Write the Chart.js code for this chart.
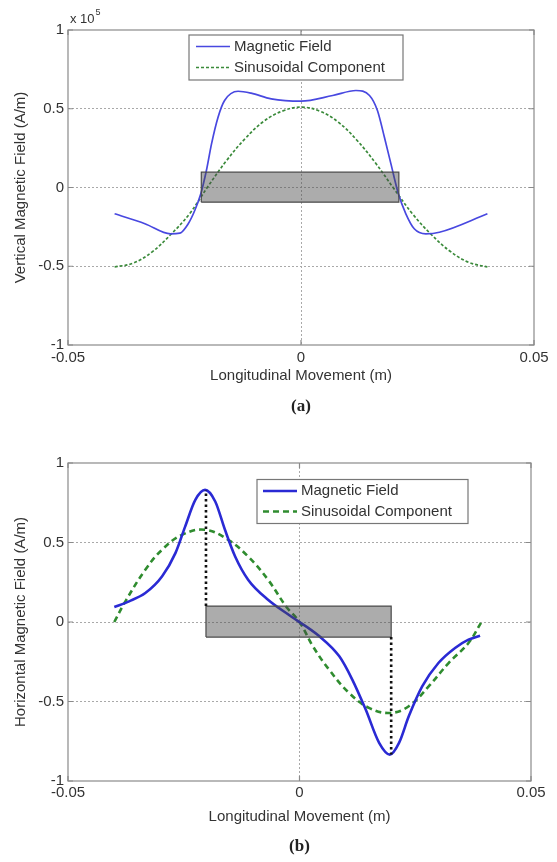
<!DOCTYPE html>
<html>
<head>
<meta charset="utf-8">
<script src="https://cdn.jsdelivr.net/npm/chart.js@4.4.0/dist/chart.umd.min.js"></script>
<style>
  html, body { margin: 0; padding: 0; background: #fff; }
  canvas { display: block; }
</style>
</head>
<body>
<canvas id="chartA" width="557" height="430"></canvas>
<canvas id="chartB" width="557" height="432"></canvas>
<script>
// axes
const xTicks = [-0.05, 0, 0.05];
const yTicks = [-1, -0.5, 0, 0.5, 1];
const seriesNames = ['Magnetic Field', 'Sinusoidal Component'];

// (a) vertical field (x 10^5 A/m)
const vertFieldX = [-0.040, -0.0335, -0.028, -0.026, -0.0242, -0.0228, -0.0215, -0.0203, -0.0192, -0.0178, -0.0164, -0.0135, -0.0107, -0.0064, 0, 0.0068, 0.0118, 0.0147, 0.0164, 0.0179, 0.0193, 0.0209, 0.0225, 0.0243, 0.0268, 0.0297, 0.040];
const vertFieldY = [-0.167, -0.23, -0.294, -0.29, -0.23, -0.146, -0.04, 0.108, 0.277, 0.446, 0.552, 0.611, 0.599, 0.563, 0.548, 0.584, 0.616, 0.584, 0.489, 0.319, 0.15, -0.04, -0.167, -0.262, -0.294, -0.284, -0.167];
const vertSineX = [-0.040, -0.036, -0.032, -0.028, -0.024, -0.020, -0.016, -0.012, -0.008, -0.004, 0, 0.004, 0.008, 0.012, 0.016, 0.020, 0.024, 0.028, 0.032, 0.036, 0.040];
const vertSineY = [-0.505, -0.48, -0.41, -0.30, -0.17, 0.005, 0.17, 0.31, 0.42, 0.485, 0.51, 0.485, 0.415, 0.30, 0.155, -0.01, -0.17, -0.30, -0.405, -0.475, -0.505];
const vertMagnetX = [-0.0214, -0.0214, 0.0210, 0.0210, -0.0214];
const vertMagnetY = [-0.093, 0.097, 0.097, -0.093, -0.093];

// (b) horizontal field
const horizFieldX = [-0.040, -0.0368, -0.0333, -0.0297, -0.0268, -0.0247, -0.0225, -0.0204, -0.0182, -0.0161, -0.0139, -0.0111, -0.0068, -0.0018, 0.0043, 0.0086, 0.0114, 0.0143, 0.0172, 0.0195, 0.0215, 0.0236, 0.0265, 0.030, 0.0336, 0.0365, 0.039];
const horizFieldY = [0.094, 0.13, 0.182, 0.286, 0.433, 0.60, 0.768, 0.831, 0.758, 0.58, 0.412, 0.266, 0.14, 0.035, -0.09, -0.216, -0.362, -0.551, -0.76, -0.834, -0.76, -0.593, -0.405, -0.258, -0.163, -0.111, -0.086];
const horizSineX = [-0.040, -0.0376, -0.0333, -0.0297, -0.0254, -0.0204, -0.0154, -0.0111, -0.0068, -0.0029, 0, 0.0029, 0.0064, 0.0107, 0.015, 0.0195, 0.0236, 0.0279, 0.0322, 0.0365, 0.0393];
const horizSineY = [0, 0.13, 0.329, 0.454, 0.548, 0.58, 0.517, 0.412, 0.266, 0.098, 0, -0.153, -0.30, -0.446, -0.54, -0.572, -0.53, -0.405, -0.258, -0.132, 0];
const horizMagnetX = [-0.0202, -0.0202, 0.0198, 0.0198, -0.0202];
const horizMagnetY = [-0.095, 0.1, 0.1, -0.095, -0.095];
const leftMarkX = [-0.0202, -0.0202];
const leftMarkY = [0.1, 0.83];
const rightMarkX = [0.0198, 0.0198];
const rightMarkY = [-0.095, -0.834];

const pts = (xs, ys) => xs.map((x, i) => ({ x: x, y: ys[i] }));
const sans = '"Liberation Sans", Arial, sans-serif';

const framePlugin = {
  id: 'frame',
  afterDatasetsDraw(chart, args, opts) {
    const ctx = chart.ctx;
    const a = chart.chartArea;
    const sx = chart.scales.x, sy = chart.scales.y;
    ctx.save();
    ctx.setLineDash([]);
    ctx.strokeStyle = '#8a8a8a';
    ctx.lineWidth = 1.2;
    ctx.strokeRect(a.left, a.top, a.right - a.left, a.bottom - a.top);
    ctx.beginPath();
    xTicks.forEach(v => {
      const px = sx.getPixelForValue(v);
      ctx.moveTo(px, a.top); ctx.lineTo(px, a.top + 5);
      ctx.moveTo(px, a.bottom); ctx.lineTo(px, a.bottom - 5);
    });
    yTicks.forEach(v => {
      const py = sy.getPixelForValue(v);
      ctx.moveTo(a.left, py); ctx.lineTo(a.left + 5, py);
      ctx.moveTo(a.right, py); ctx.lineTo(a.right - 5, py);
    });
    ctx.stroke();

    // legend box
    const lg = opts.legend;
    ctx.fillStyle = '#fff';
    ctx.fillRect(lg.x, lg.y, lg.w, lg.h);
    ctx.strokeStyle = '#777';
    ctx.lineWidth = 1.2;
    ctx.strokeRect(lg.x, lg.y, lg.w, lg.h);
    ctx.font = '15px ' + sans;
    ctx.textBaseline = 'middle';
    chart.data.datasets.filter(d => d.inLegend).forEach((d, i) => {
      const ry = lg.y + lg.row0 + i * lg.rowGap;
      ctx.strokeStyle = d.borderColor;
      ctx.lineWidth = d.borderWidth;
      ctx.setLineDash(d.borderDash || []);
      ctx.beginPath();
      ctx.moveTo(lg.x + lg.line0, ry);
      ctx.lineTo(lg.x + lg.line1, ry);
      ctx.stroke();
      ctx.setLineDash([]);
      ctx.fillStyle = '#333';
      ctx.fillText(d.label, lg.x + lg.text, ry);
    });

    // caption below the axis title
    ctx.fillStyle = '#222';
    ctx.font = 'bold 17px "Liberation Serif", "Times New Roman", serif';
    ctx.textAlign = 'center';
    ctx.fillText(opts.caption, (a.left + a.right) / 2, opts.captionY);

    if (opts.exponent) {
      ctx.textAlign = 'left';
      ctx.fillStyle = '#333';
      ctx.font = '13px ' + sans;
      ctx.fillText('x 10', a.left + 2, a.top - 11);
      const w = ctx.measureText('x 10').width;
      ctx.font = '9px ' + sans;
      ctx.fillText('5', a.left + 3 + w, a.top - 17);
    }
    ctx.restore();
  }
};

function makeChart(id, c) {
  return new Chart(document.getElementById(id), {
    type: 'scatter',
    data: { datasets: c.datasets },
    plugins: [framePlugin],
    options: {
      responsive: false,
      animation: false,
      devicePixelRatio: 1,
      layout: { padding: { left: 0, top: c.top, right: c.right, bottom: 0 } },
      plugins: {
        legend: { display: false },
        tooltip: { enabled: false },
        frame: { legend: c.legend, caption: c.caption, captionY: c.captionY, exponent: c.exponent }
      },
      scales: {
        x: {
          type: 'linear', min: -0.05, max: 0.05,
          afterBuildTicks: s => { s.ticks = xTicks.map(v => ({ value: v })); },
          afterFit: s => { s.height = c.xHeight; },
          ticks: { color: '#333', font: { family: sans, size: 15 }, padding: c.xPad, maxRotation: 0, callback: v => String(v) },
          grid: { drawTicks: false, lineWidth: 1, color: g => (g.tick && Math.abs(g.tick.value) > 0.049) ? 'rgba(0,0,0,0)' : '#a9a9a9' },
          border: { display: false, dash: [2, 2] },
          title: { display: true, text: 'Longitudinal Movement (m)', color: '#333', font: { family: sans, size: 15 }, padding: { top: 0, bottom: c.xTitlePad } }
        },
        y: {
          type: 'linear', min: -1, max: 1,
          afterBuildTicks: s => { s.ticks = yTicks.map(v => ({ value: v })); },
          afterFit: s => { s.width = c.yWidth; },
          ticks: { color: '#333', font: { family: sans, size: 15 }, padding: 4, callback: v => String(v) },
          grid: { drawTicks: false, lineWidth: 1, color: g => (g.tick && Math.abs(g.tick.value) > 0.99) ? 'rgba(0,0,0,0)' : '#a9a9a9' },
          border: { display: false, dash: [2, 2] },
          title: { display: true, text: c.yTitle, color: '#333', font: { family: sans, size: 15 }, padding: { top: 12, bottom: 0 } }
        }
      }
    }
  });
}

const lineDefaults = { showLine: true, pointRadius: 0, pointHoverRadius: 0, fill: false };

makeChart('chartA', {
  top: 30, right: 23, yWidth: 68, xHeight: 85, xPad: 4, xTitlePad: 45,
  caption: '(a)', captionY: 407, exponent: true,
  yTitle: 'Vertical Magnetic Field (A/m)',
  legend: { x: 189, y: 35, w: 214, h: 45, row0: 11.5, rowGap: 21, line0: 7, line1: 41, text: 45 },
  datasets: [
    Object.assign({}, lineDefaults, { label: 'magnet', data: pts(vertMagnetX, vertMagnetY), borderColor: '#4a4a4a', borderWidth: 1.2, backgroundColor: 'rgba(70,70,70,0.45)', fill: 'shape', tension: 0, order: 1 }),
    Object.assign({}, lineDefaults, { label: seriesNames[0], inLegend: true, data: pts(vertFieldX, vertFieldY), borderColor: '#4848e0', borderWidth: 1.7, cubicInterpolationMode: 'monotone', order: 2 }),
    Object.assign({}, lineDefaults, { label: seriesNames[1], inLegend: true, data: pts(vertSineX, vertSineY), borderColor: '#3a8a3a', borderWidth: 1.7, borderDash: [3, 2], tension: 0.4, order: 3 })
  ]
});

makeChart('chartB', {
  top: 33, right: 26, yWidth: 68, xHeight: 81, xPad: 3, xTitlePad: 36,
  caption: '(b)', captionY: 417, exponent: false,
  yTitle: 'Horizontal Magnetic Field (A/m)',
  legend: { x: 257, y: 49.5, w: 211, h: 44, row0: 11.5, rowGap: 20.5, line0: 6, line1: 40, text: 44 },
  datasets: [
    Object.assign({}, lineDefaults, { label: 'mark1', data: pts(leftMarkX, leftMarkY), borderColor: '#111', borderWidth: 2.6, borderDash: [2.5, 3], tension: 0, order: 0 }),
    Object.assign({}, lineDefaults, { label: 'mark2', data: pts(rightMarkX, rightMarkY), borderColor: '#111', borderWidth: 2.6, borderDash: [2.5, 3], tension: 0, order: 0 }),
    Object.assign({}, lineDefaults, { label: 'magnet', data: pts(horizMagnetX, horizMagnetY), borderColor: '#4a4a4a', borderWidth: 1.2, backgroundColor: 'rgba(70,70,70,0.45)', fill: 'shape', tension: 0, order: 1 }),
    Object.assign({}, lineDefaults, { label: seriesNames[0], inLegend: true, data: pts(horizFieldX, horizFieldY), borderColor: '#2a2ad4', borderWidth: 2.6, cubicInterpolationMode: 'monotone', order: 2 }),
    Object.assign({}, lineDefaults, { label: seriesNames[1], inLegend: true, data: pts(horizSineX, horizSineY), borderColor: '#2f8c2f', borderWidth: 2.6, borderDash: [6, 4], tension: 0.4, order: 3 })
  ]
});
</script>
</body>
</html>
